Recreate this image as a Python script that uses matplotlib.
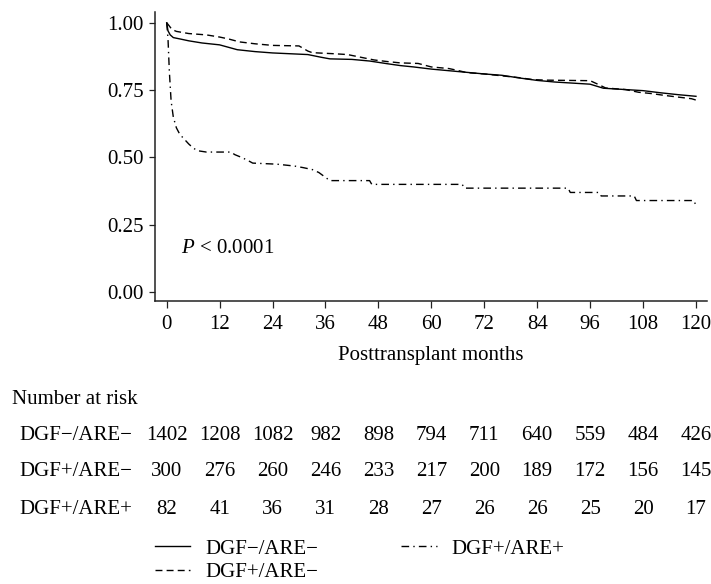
import matplotlib
matplotlib.use("Agg")
import matplotlib.pyplot as plt
import matplotlib.transforms as mtransforms

plt.rcParams['font.family'] = ['Liberation Serif', 'DejaVu Serif']
plt.rcParams['mathtext.fontset'] = 'custom'
plt.rcParams['mathtext.it'] = 'Liberation Serif:italic'
plt.rcParams['mathtext.rm'] = 'Liberation Serif'

# Kaplan-Meier curves (months, survival)
m_neg_neg = [0, 0.3, 0.8, 1.5, 3, 5, 8, 12, 16, 20, 24, 28, 32, 35, 37, 42, 46, 50, 53,
             56, 60, 64, 68, 72, 76, 80, 84, 88, 92, 96, 99, 104, 108, 112, 116, 120]
s_neg_neg = [1.0, 0.97, 0.955, 0.945, 0.94, 0.933, 0.925, 0.918, 0.90, 0.893, 0.888, 0.885,
             0.882, 0.872, 0.866, 0.864, 0.858, 0.848, 0.841, 0.836, 0.828, 0.822, 0.816,
             0.81, 0.805, 0.795, 0.786, 0.78, 0.776, 0.772, 0.757, 0.752, 0.748, 0.74,
             0.733, 0.727]

m_pos_neg = [0, 0.5, 1.2, 2.2, 5, 9, 12, 14, 16.5, 20, 24, 30, 32, 33, 38, 41, 44, 47, 50,
             53, 57, 60, 64, 66, 68, 72, 76, 80, 83, 86, 96, 98, 99.5, 104, 107, 110, 113,
             116, 119, 120]
s_pos_neg = [1.0, 0.99, 0.975, 0.968, 0.96, 0.955, 0.947, 0.94, 0.929, 0.922, 0.916, 0.914,
             0.895, 0.889, 0.885, 0.882, 0.872, 0.862, 0.856, 0.851, 0.849, 0.836, 0.83,
             0.823, 0.815, 0.81, 0.803, 0.796, 0.789, 0.787, 0.785, 0.77, 0.758, 0.752,
             0.742, 0.737, 0.73, 0.724, 0.718, 0.713]

m_pos_pos = [0, 0.3, 0.6, 1.0, 1.5, 2.2, 3, 3.7, 5, 6, 7, 9, 14.5, 15.5, 17, 18.5, 19.5,
             25, 29, 31, 33, 34.5, 35.5, 37, 46, 46.5, 67, 67.5, 91, 91.5, 98, 98.5, 106,
             106.5, 119.5, 120]
s_pos_pos = [1.0, 0.94, 0.82, 0.71, 0.65, 0.61, 0.585, 0.573, 0.55, 0.535, 0.525, 0.52,
             0.52, 0.51, 0.50, 0.488, 0.479, 0.475, 0.468, 0.462, 0.455, 0.444, 0.432,
             0.414, 0.414, 0.40, 0.40, 0.386, 0.386, 0.37, 0.37, 0.357, 0.357, 0.34, 0.34,
             0.322]

# number at risk table
risk_months = [0, 12, 24, 36, 48, 60, 72, 84, 96, 108, 120]
risk_labels = ['DGF\u2212/ARE\u2212', 'DGF+/ARE\u2212', 'DGF+/ARE+']
risk_neg_neg = [1402, 1208, 1082, 982, 898, 794, 711, 640, 559, 484, 426]
risk_pos_neg = [300, 276, 260, 246, 233, 217, 200, 189, 172, 156, 145]
risk_pos_pos = [82, 41, 36, 31, 28, 27, 26, 26, 25, 20, 17]

fs = 15
fig = plt.figure(figsize=(7.11, 5.84), dpi=100)
ax = fig.add_axes([155 / 711, 1 - 301 / 584, 552 / 711, 289 / 584])

lw = 1.0
ax.plot(m_neg_neg, s_neg_neg, color='black', lw=lw, label=risk_labels[0])
ax.plot(m_pos_neg, s_pos_neg, color='black', lw=lw, dashes=(5, 3), label=risk_labels[1])
ax.plot(m_pos_pos, s_pos_pos, color='black', lw=lw, dashes=(5.5, 3, 1, 3),
        label=risk_labels[2])

ax.set_xlim(-2.65, 122.5)
ax.set_ylim(-0.033, 1.04)
ax.set_xticks(risk_months)
ax.set_yticks([0, 0.25, 0.5, 0.75, 1.0])
ax.set_yticklabels(['0.00', '0.25', '0.50', '0.75', '1.00'])
for s in ['top', 'right']:
    ax.spines[s].set_visible(False)
for s in ['left', 'bottom']:
    ax.spines[s].set_linewidth(1.1)
    ax.spines[s].set_color('#222222')
ax.tick_params(axis='both', labelsize=fs, length=4, width=0.9, color='#222222', pad=4)
ax.tick_params(axis='x', length=5, pad=5)
ax.set_xlabel('Posttransplant months', fontsize=fs, labelpad=9)

ax.text(3.2, 0.162, r'$P$ < 0.0001', fontsize=fs, ha='left', va='center')

# number at risk
trans = mtransforms.blended_transform_factory(ax.transData, fig.transFigure)
fig.text(12 / 711, 1 - 400 / 584, 'Number at risk', fontsize=fs, va='center')
rows = [risk_neg_neg, risk_pos_neg, risk_pos_pos]
row_y = [1 - 435 / 584, 1 - 472 / 584, 1 - 509 / 584]
for lab, vals, y in zip(risk_labels, rows, row_y):
    fig.text(19 / 711, y, lab, fontsize=fs, va='center')
    for m, v in zip(risk_months, vals):
        ax.text(m, y, str(v), transform=trans, fontsize=fs, ha='center', va='center')

fig.legend(loc='upper left', bbox_to_anchor=(155 / 711, 1 - 539 / 584), ncol=2,
           frameon=False, fontsize=fs, handlelength=1.7, handletextpad=0.7,
           columnspacing=4.0, labelspacing=0.2, borderpad=0, borderaxespad=0)

fig.savefig('out.png', dpi=100)
